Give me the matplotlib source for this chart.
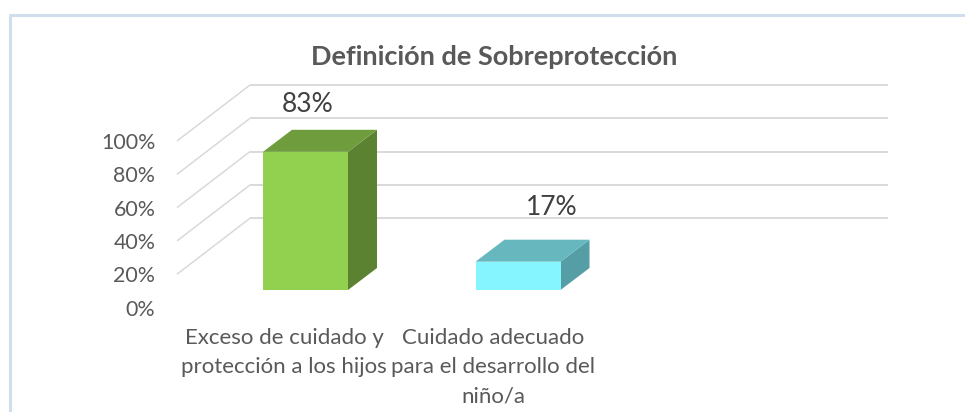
import matplotlib
matplotlib.use("Agg")
import matplotlib.pyplot as plt
from matplotlib.patches import Polygon, Rectangle
from matplotlib.lines import Line2D

plt.rcParams['font.family'] = ['Lato', 'DejaVu Sans']

title = "Definición de Sobreprotección"
categories = ["Exceso de cuidado y\nprotección a los hijos",
              "Cuidado adecuado\npara el desarrollo del\nniño/a"]
values = [83, 17]
labels = ["83%", "17%"]
yticks = [0, 20, 40, 60, 80, 100]
gridvals = [20, 40, 60, 80, 100]

front = ["#92D050", "#85F6FF"]
top = ["#6F9C3D", "#66B8BE"]
side = ["#5B8231", "#559EA5"]

W, H = 965, 412
fig = plt.figure(figsize=(W / 100, H / 100), dpi=100, facecolor="white")

# axes: left/bottom = front plane of the 3-D box
L, R, B, T = 177, 888, 307.5, 84.0
ax = fig.add_axes([L / W, 1 - B / H, (R - L) / W, (B - T) / H])
PX_Y = 1.665            # pixels per percent
CAT = 212.5             # pixels per category
C0 = 305.5              # pixel centre of category 0
ax.set_xlim((L - C0) / CAT, (R - C0) / CAT)
ax.set_ylim(0, (B - T) / PX_Y)
ax.patch.set_alpha(0)
for s in ax.spines.values():
    s.set_visible(False)

ux = 1 / CAT
uy = 1 / PX_Y
WALL_X, WALL_Y = 73 * ux, 56 * uy
x0 = (L - C0) / CAT

# back wall gridlines and side wall diagonals
GRID = "#D9D9D9"
for v in gridvals:
    ax.plot([x0, x0 + WALL_X], [v, v + WALL_Y], color=GRID, lw=1.1, clip_on=False, solid_capstyle="butt")
    ax.plot([x0 + WALL_X, (R - C0) / CAT], [v + WALL_Y, v + WALL_Y], color=GRID, lw=1.4, clip_on=False, solid_capstyle="butt")

# bars
BW = 85 * ux
DX, DY = 29 * ux, 22 * uy
BASE = 17.5 * uy
for i, v in enumerate(values):
    xl, xr = i - BW / 2, i + BW / 2
    y0, y1 = BASE, BASE + v
    ax.add_patch(Polygon([(xr, y0), (xr + DX, y0 + DY), (xr + DX, y1 + DY), (xr, y1)], fc=side[i], ec="none", zorder=3))
    ax.add_patch(Polygon([(xl, y1), (xr, y1), (xr + DX, y1 + DY), (xl + DX, y1 + DY)], fc=top[i], ec="none", zorder=3))
    ax.add_patch(Rectangle((xl, y0), BW, v, fc=front[i], ec="none", zorder=4))

# data labels
lab_x = [2.5 * ux, 34 * ux]
lab_y = [307.5 - 105, 307.5 - 208]
for i, t in enumerate(labels):
    ax.text(i + lab_x[i], lab_y[i] * uy, t, ha="center", va="center", fontsize=19, color="#404040", zorder=5)

# axes tick labels
ax.set_yticks(yticks)
ax.set_yticklabels([f"{v}%" for v in yticks], fontsize=15.4, color="#595959")
ax.tick_params(axis="y", length=0, pad=15.5)
ax.set_xticks([(284 - C0) / CAT, (493 - C0) / CAT])
ax.set_xticklabels(categories, fontsize=16, color="#595959", linespacing=1.56, ha="center")
ax.tick_params(axis="x", length=0, pad=15)

# title
fig.text(494.5 / W, 1 - 57 / H, title, ha="center", va="center", fontsize=19.5, fontweight="bold", color="#595959")

# outer frame (runs off the picture on the right and bottom)
BORDER = "#CFDDEC"
fig.add_artist(Line2D([9.5 / W, 9.5 / W], [0, 1 - 14.5 / H], color=BORDER, lw=2.2, solid_capstyle="butt"))
fig.add_artist(Line2D([8.5 / W, 1], [1 - 14.5 / H, 1 - 14.5 / H], color=BORDER, lw=2.2, solid_capstyle="butt"))

fig.savefig("out.png", dpi=100)
